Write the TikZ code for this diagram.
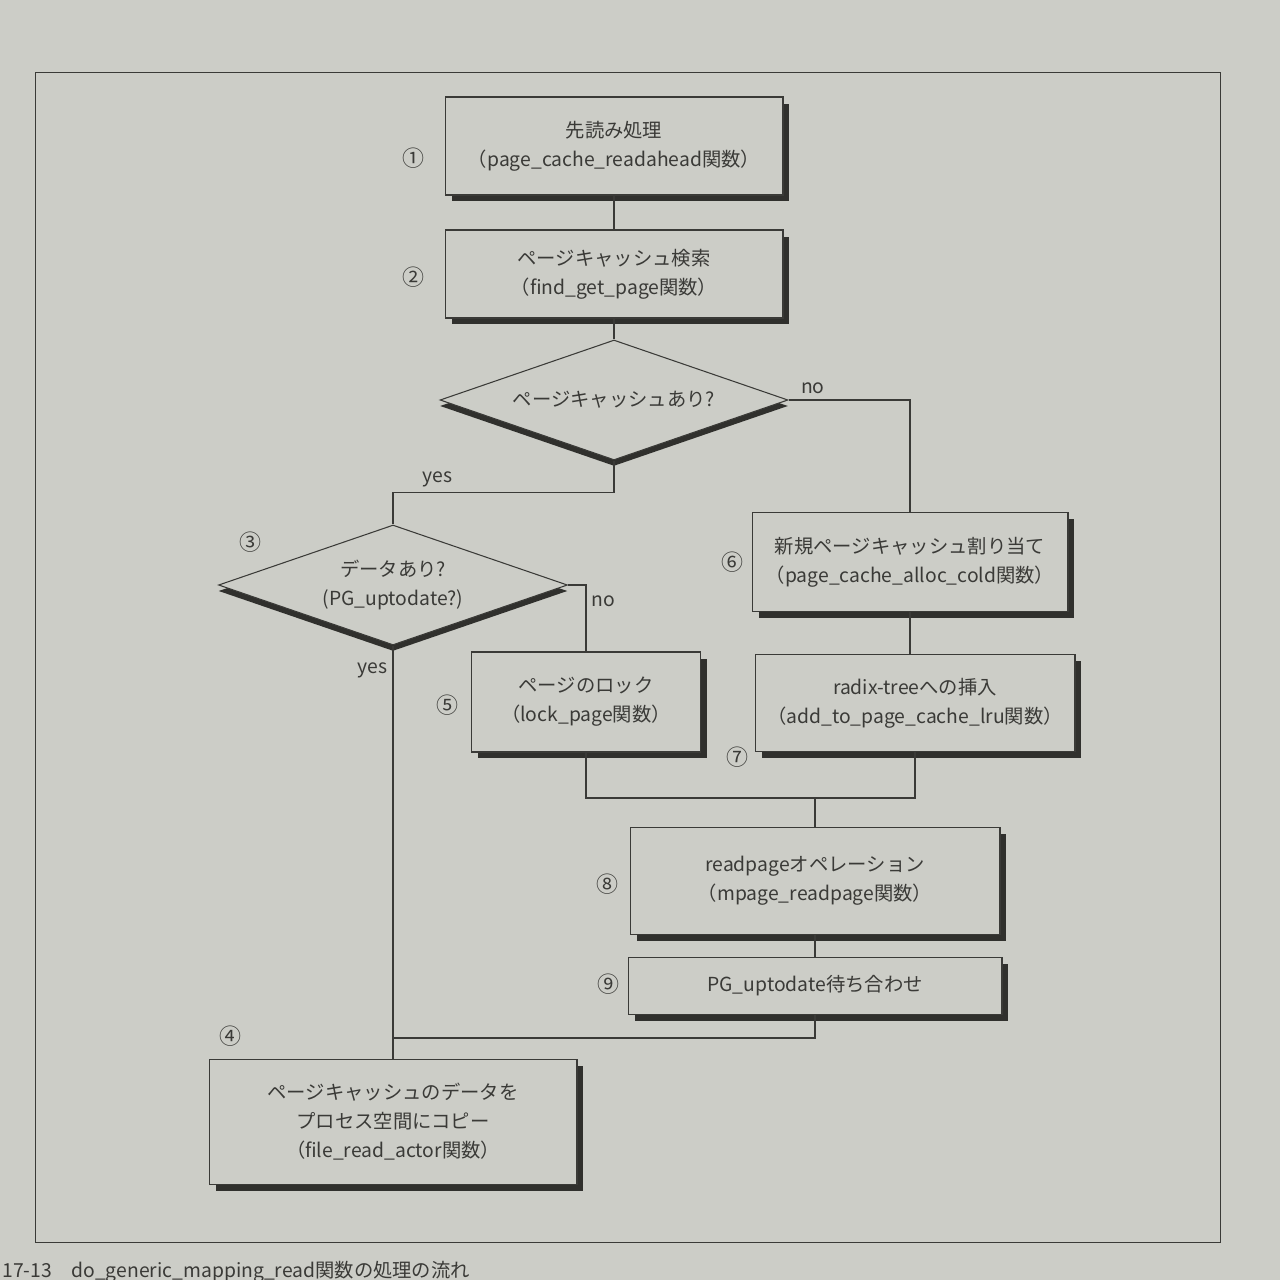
\documentclass[tikz,border=0pt]{standalone}
\usepackage{fontspec}
\setmainfont{Noto Sans CJK JP}
\usetikzlibrary{shapes.geometric,shadows}

\definecolor{paper}{RGB}{204,205,199}
\definecolor{ink}{RGB}{58,58,55}
\definecolor{shade}{RGB}{48,48,45}
\newcommand\txtfont{\fontsize{11}{16.5}\selectfont}

\begin{document}
\begin{tikzpicture}[x=0.02cm,y=-0.02cm,color=ink,line width=0.6pt]
  \tikzstyle{proc}=[rectangle,draw=ink,fill=paper,align=center,font=\txtfont,
    drop shadow={shadow xshift=0.13cm,shadow yshift=-0.13cm,fill=shade,opacity=1}]
  \tikzstyle{decision}=[diamond,aspect=2.9,draw=ink,fill=paper,align=center,font=\txtfont,inner sep=0pt,
    drop shadow={shadow xshift=0cm,shadow yshift=-0.12cm,fill=shade,opacity=1}]
  \tikzstyle{num}=[font=\fontsize{12.5}{14}\selectfont,inner sep=1pt]
  \tikzstyle{answer}=[font=\txtfont,inner sep=3pt]

  % paper and frame
  \clip (0,0) rectangle (1280,1280);
  \fill[paper] (0,0) rectangle (1280,1280);
  \draw[line width=0.5pt] (35,72) rectangle (1220,1242);

  % steps
  \node [proc,minimum width=6.76cm,minimum height=1.96cm] (readahead) at (614,146)
    {先読み処理\\（page\_cache\_readahead関数）};
  \node [proc,minimum width=6.76cm,minimum height=1.76cm] (findpage) at (614,274)
    {ページキャッシュ検索\\（find\_get\_page関数）};
  \node [decision,minimum width=6.96cm,minimum height=2.4cm] (hit) at (614,400)
    {ページキャッシュあり?};
  \node [decision,minimum width=6.98cm,minimum height=2.4cm] (uptodate) at (393,585)
    {データあり?\\(PG\_uptodate?)};
  \node [proc,minimum width=4.58cm,minimum height=2cm] (lock) at (586,702)
    {ページのロック\\（lock\_page関数）};
  \node [proc,minimum width=6.32cm,minimum height=1.98cm] (alloc) at (910,562)
    {新規ページキャッシュ割り当て\\（page\_cache\_alloc\_cold関数）};
  \node [proc,minimum width=6.4cm,minimum height=1.94cm] (insert) at (915,703)
    {radix-treeへの挿入\\（add\_to\_page\_cache\_lru関数）};
  \node [proc,minimum width=7.4cm,minimum height=2.14cm] (readpage) at (815,881)
    {readpageオペレーション\\（mpage\_readpage関数）};
  \node [proc,minimum width=7.48cm,minimum height=1.14cm] (waitpg) at (815,986)
    {PG\_uptodate待ち合わせ};
  \node [proc,minimum width=7.36cm,minimum height=2.5cm] (copy) at (393,1122)
    {ページキャッシュのデータを\\プロセス空間にコピー\\（file\_read\_actor関数）};

  % step numbers
  \node [num] (n1) at (413,158) {①};
  \node [num] (n2) at (413,277) {②};
  \node [num] (n3) at (250,542) {③};
  \node [num] (n4) at (230,1036) {④};
  \node [num] (n5) at (447,705) {⑤};
  \node [num] (n6) at (732,562) {⑥};
  \node [num] (n7) at (737,757) {⑦};
  \node [num] (n8) at (607,884) {⑧};
  \node [num] (n9) at (608,984) {⑨};

  % connectors
  \draw (readahead) -- (findpage);
  \draw (findpage) -- (hit);
  \draw (hit.east) -| node [answer,pos=0.1,above] {no} (alloc.north);
  \draw (hit.south) -- ++(0,32) -| node [answer,pos=0.4,above] {yes} (uptodate.north);
  \draw (uptodate.east) -| node [answer,pos=0.62,right] {no} (lock.north);
  \draw (uptodate.south) -- node [answer,pos=0.06,left] {yes} (copy.north);
  \draw (alloc.south) -- (alloc.south |- insert.north);
  \path (readpage.north) ++(0,-29) coordinate (merge);
  \draw (lock.south) |- (insert.south |- merge) -- (insert.south);
  \draw (merge) -- (readpage.north);
  \draw (readpage) -- (waitpg);
  \coordinate (join) at (copy.north |- 0,1038);
  \draw (waitpg.south) |- (join);

  % caption
  \node [font=\txtfont,anchor=base west,inner sep=0pt] (caption) at (2,1277)
    {17-13\quad do\_generic\_mapping\_read関数の処理の流れ};
\end{tikzpicture}
\end{document}
